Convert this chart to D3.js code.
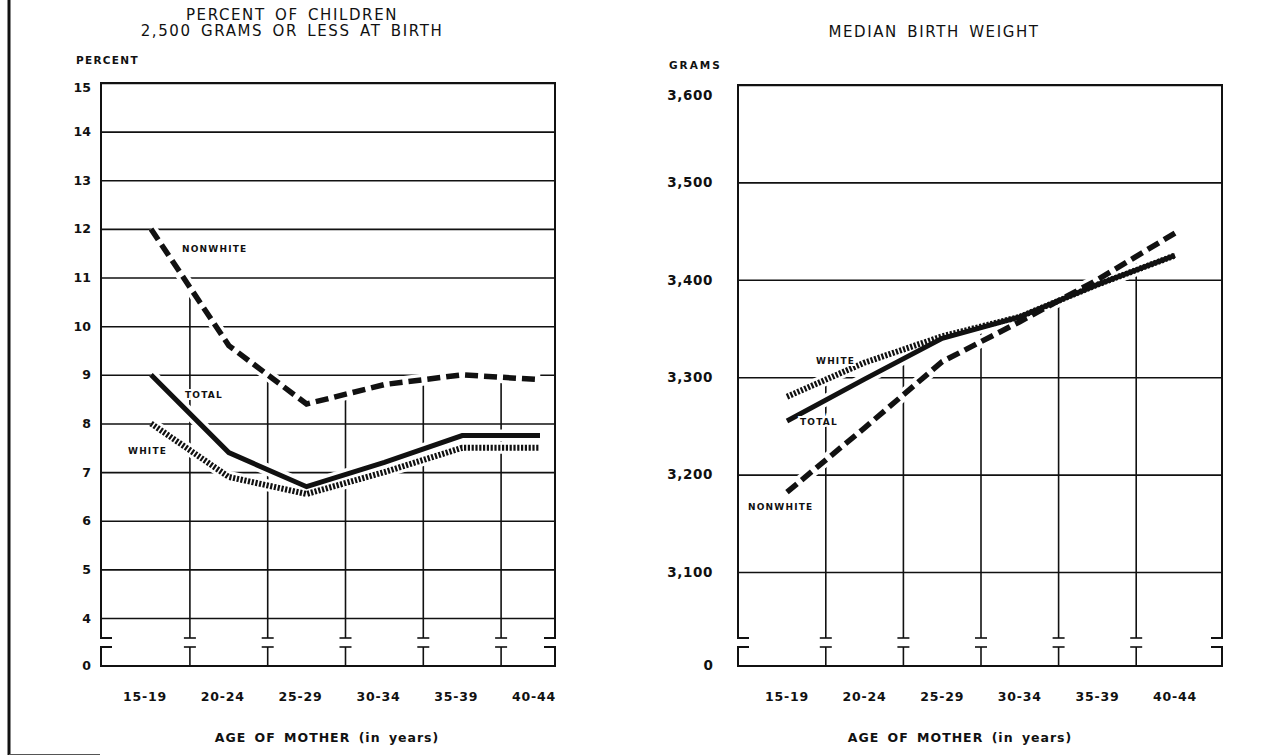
<!DOCTYPE html>
<html>
<head>
<meta charset="utf-8">
<script src="https://cdn.jsdelivr.net/npm/d3@7"></script>
<style>
  html, body { margin: 0; padding: 0; background: #fff; }
  svg { display: block; }
  text { font-family: "DejaVu Sans", sans-serif; fill: #111; }
</style>
</head>
<body>
<svg id="chart" width="1262" height="756"></svg>
<script>
// ---------- data ----------
const categories = ["15-19", "20-24", "25-29", "30-34", "35-39", "40-44"];

const pctTotal    = [9.0, 7.4, 6.7, 7.2, 7.75, 7.75];
const pctWhite    = [8.0, 6.9, 6.55, 7.0, 7.5, 7.5];
const pctNonwhite = [12.0, 9.6, 8.4, 8.8, 9.0, 8.9];
const pctTicks    = [4, 5, 6, 7, 8, 9, 10, 11, 12, 13, 14, 15];

const wtTotal     = [3255, 3298, 3340, 3362, 3395, 3425];
const wtWhite     = [3280, 3315, 3342, 3362, 3395, 3425];
const wtNonwhite  = [3182, 3248, 3316, 3357, 3400, 3448];
const wtTicks     = [3100, 3200, 3300, 3400, 3500, 3600];

const seriesNames = ["WHITE", "TOTAL", "NONWHITE"];

// ---------- layout ----------
const svg = d3.select("#chart");
const INK = "#111";
const breakTop = 638, breakBot = 647, zeroY = 666;

const styles = {
  WHITE:    { width: 6,   dash: "2.2,1.6" },
  TOTAL:    { width: 5,   dash: null },
  NONWHITE: { width: 5.5, dash: "13,6" }
};

function panel(cfg) {
  const g = svg.append("g");
  const x = d3.scalePoint().domain(categories).range(cfg.pointRange);
  const y = d3.scaleLinear().domain(cfg.yDomain).range(cfg.yRange);
  const [fx0, fx1] = cfg.frame;
  const fTop = y(cfg.yDomain[1]);

  // horizontal gridlines via axis
  g.append("g")
    .attr("transform", `translate(${fx0},0)`)
    .call(d3.axisLeft(y).tickValues(cfg.ticks).tickSize(-(fx1 - fx0)).tickFormat(""))
    .call(a => a.select(".domain").remove())
    .call(a => a.selectAll("line").attr("stroke", INK).attr("stroke-width", 1.6));

  // tick labels
  g.append("g")
    .attr("transform", `translate(${cfg.labelX},0)`)
    .call(d3.axisLeft(y).tickValues(cfg.ticks).tickSize(0).tickPadding(0).tickFormat(cfg.fmt))
    .call(a => a.select(".domain").remove())
    .call(a => a.selectAll("text")
      .attr("font-family", "DejaVu Sans").attr("font-weight", "bold")
      .attr("font-size", cfg.tickFont).attr("letter-spacing", cfg.tickLS).attr("fill", INK)
      .attr("transform", d => d === cfg.yDomain[1] ? `translate(0,${cfg.topShift})` : null));
  g.append("text").attr("x", cfg.labelX).attr("y", zeroY).attr("dy", "0.32em")
    .attr("text-anchor", "end").attr("font-weight", "bold").attr("font-size", cfg.tickFont).text("0");

  // unit label
  g.append("text").attr("x", cfg.unitX).attr("y", cfg.unitY)
    .attr("font-weight", "bold").attr("font-size", 10.5).attr("letter-spacing", cfg.unitLS)
    .text(cfg.unit);

  // vertical separators between categories (from top series down to the break)
  const step = x.step();
  const tops = [];
  for (let i = 0; i < categories.length - 1; i++) {
    const mx = x(categories[i]) + step / 2;
    const topVal = d3.max(cfg.series, s => (s.values[i] + s.values[i + 1]) / 2);
    tops.push({ mx, topVal });
  }
  const vg = g.append("g").attr("stroke", INK).attr("stroke-width", 1.6).attr("fill", "none");
  tops.forEach(t => {
    vg.append("line").attr("x1", t.mx).attr("x2", t.mx).attr("y1", y(t.topVal)).attr("y2", breakTop);
    vg.append("line").attr("x1", t.mx - 6).attr("x2", t.mx + 6).attr("y1", breakTop).attr("y2", breakTop);
    vg.append("line").attr("x1", t.mx - 6).attr("x2", t.mx + 6).attr("y1", breakBot).attr("y2", breakBot);
    vg.append("line").attr("x1", t.mx).attr("x2", t.mx).attr("y1", breakBot).attr("y2", zeroY);
  });

  // frame with break
  const fg = g.append("g").attr("stroke", INK).attr("stroke-width", 2).attr("fill", "none");
  fg.append("path").attr("d", `M${fx0 + 11},${breakTop}H${fx0}V${fTop}H${fx1}V${breakTop}H${fx1 - 11}`);
  fg.append("path").attr("d", `M${fx0 + 11},${breakBot}H${fx0}V${zeroY}H${fx1}V${breakBot}H${fx1 - 11}`);

  // series
  const line = d3.line().x((d, i) => x(categories[i])).y(d => y(d));
  const sg = g.append("g").attr("fill", "none");
  cfg.series.forEach(s => {
    sg.append("path").attr("d", line(s.values)).attr("stroke", "#fff")
      .attr("stroke-width", 12).attr("stroke-linejoin", "round");
  });
  cfg.series.forEach(s => {
    const st = styles[s.name];
    sg.append("path").attr("d", line(s.values)).attr("stroke", INK)
      .attr("stroke-width", st.width).attr("stroke-dasharray", st.dash)
      .attr("stroke-linejoin", "miter");
  });

  // series labels
  cfg.labels.forEach(l => {
    g.append("text").attr("x", l.x).attr("y", l.y).attr("dy", "0.35em")
      .attr("font-weight", "bold").attr("font-size", 9).attr("letter-spacing", 1.2)
      .attr("stroke", "#fff").attr("stroke-width", 4).attr("paint-order", "stroke")
      .text(l.text);
  });

  // category labels
  g.selectAll(".cat").data(categories).enter().append("text")
    .attr("x", d => x(d) - cfg.catShift).attr("y", 697).attr("dy", "0.35em")
    .attr("text-anchor", "middle").attr("font-weight", "bold").attr("font-size", 12.5)
    .attr("letter-spacing", 0.8).text(d => d);

  // axis title
  g.append("text").attr("x", cfg.xTitleX).attr("y", 738).attr("dy", "0.35em")
    .attr("text-anchor", "middle").attr("font-weight", "bold").attr("font-size", 12.5)
    .attr("letter-spacing", 1).attr("word-spacing", 3)
    .text("AGE OF MOTHER (in years)");

  // chart title
  cfg.title.forEach((t, i) => {
    g.append("text").attr("x", cfg.titleX).attr("y", cfg.titleY + i * 16)
      .attr("text-anchor", "middle").attr("font-size", 15).attr("letter-spacing", 1.6)
      .attr("word-spacing", 3).text(t);
  });
}

panel({
  frame: [101, 555],
  pointRange: [151, 540],
  yDomain: [4, 15], yRange: [618, 83],
  ticks: pctTicks, fmt: d3.format("d"), tickFont: 12.5, tickLS: 0, topShift: 4,
  labelX: 91, unit: "PERCENT", unitX: 76, unitY: 64, unitLS: 1.3,
  series: [
    { name: "WHITE", values: pctWhite },
    { name: "TOTAL", values: pctTotal },
    { name: "NONWHITE", values: pctNonwhite }
  ],
  labels: [
    { text: "NONWHITE", x: 182, y: 249 },
    { text: "TOTAL", x: 185, y: 395 },
    { text: "WHITE", x: 128, y: 451 }
  ],
  catShift: 6,
  xTitleX: 327,
  title: ["PERCENT OF CHILDREN", "2,500 GRAMS OR LESS AT BIRTH"], titleX: 292, titleY: 20
});

panel({
  frame: [738, 1222],
  pointRange: [787, 1175],
  yDomain: [3100, 3600], yRange: [572, 85],
  ticks: wtTicks, fmt: d3.format(","), tickFont: 13.5, tickLS: 0.6, topShift: 10,
  labelX: 713, unit: "GRAMS", unitX: 669, unitY: 69, unitLS: 2,
  series: [
    { name: "WHITE", values: wtWhite },
    { name: "TOTAL", values: wtTotal },
    { name: "NONWHITE", values: wtNonwhite }
  ],
  labels: [
    { text: "WHITE", x: 816, y: 361 },
    { text: "TOTAL", x: 800, y: 422 },
    { text: "NONWHITE", x: 748, y: 507 }
  ],
  catShift: 0,
  xTitleX: 960,
  title: ["MEDIAN BIRTH WEIGHT"], titleX: 934, titleY: 37
});

// scan border at left edge
svg.append("path").attr("d", "M9,0V755").attr("fill", "none")
  .attr("stroke", INK).attr("stroke-width", 3);
svg.append("path").attr("d", "M9,754.5H100").attr("fill", "none")
  .attr("stroke", "#555").attr("stroke-width", 1.2);
</script>
</body>
</html>
